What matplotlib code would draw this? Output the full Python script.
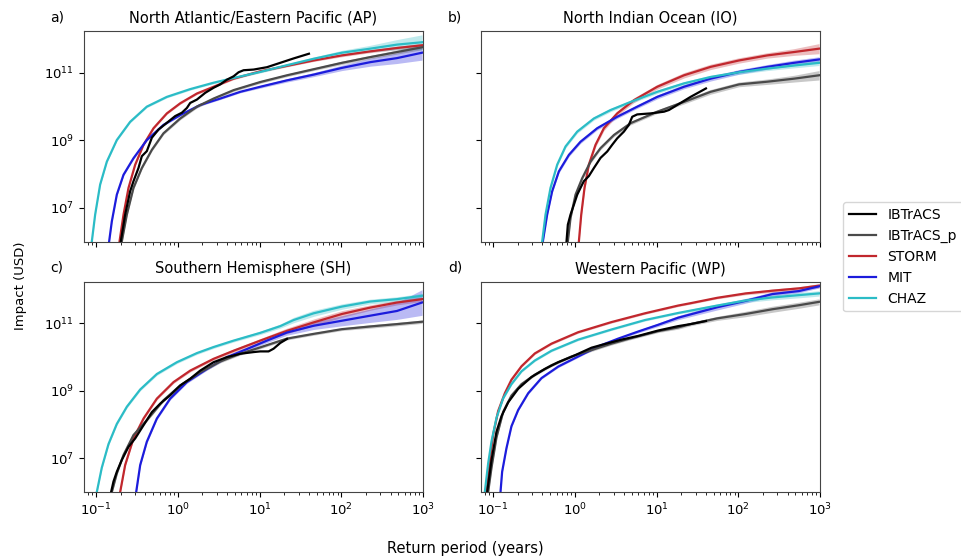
import numpy as np
import matplotlib
matplotlib.use("Agg")
import matplotlib.pyplot as plt
from matplotlib.ticker import LogLocator, NullFormatter

# all values are log10(return period [yr]) and log10(impact [USD])

# ---- a) North Atlantic/Eastern Pacific (AP)
ap_ibt_x = [-0.698, -0.645, -0.584, -0.543, -0.482, -0.441, -0.380, -0.318, -0.237, -0.135, -0.033, 0.049, 0.110,
            0.151, 0.233, 0.335, 0.437, 0.518, 0.600, 0.682, 0.743, 0.804, 0.927, 1.090, 1.253, 1.416, 1.604]
ap_ibt_y = [6.01, 6.80, 7.49, 7.79, 8.18, 8.53, 8.68, 9.08, 9.32, 9.52, 9.72, 9.82, 9.96,
            10.11, 10.21, 10.41, 10.56, 10.66, 10.80, 10.90, 11.02, 11.08, 11.10, 11.17, 11.30, 11.43, 11.57]
ap_ibtp_x = [-0.686, -0.624, -0.543, -0.441, -0.318, -0.176, 0.029, 0.233, 0.437, 0.682, 1.008, 1.335, 1.661,
             2.008, 2.355, 2.682, 2.988]
ap_ibtp_y = [6.0, 6.80, 7.59, 8.18, 8.72, 9.21, 9.65, 10.0, 10.24, 10.49, 10.73, 10.93, 11.11,
             11.30, 11.47, 11.62, 11.76]
ap_ibtp_sd = [0.04, 0.04, 0.04, 0.04, 0.04, 0.04, 0.04, 0.04, 0.04, 0.04, 0.04, 0.04, 0.04, 0.05, 0.05, 0.06, 0.07]
ap_storm_x = [-0.714, -0.665, -0.604, -0.522, -0.420, -0.298, -0.135, 0.029, 0.233, 0.437, 0.682, 1.008, 1.335,
              1.661, 2.008, 2.355, 2.682, 2.988]
ap_storm_y = [6.0, 6.80, 7.59, 8.28, 8.87, 9.36, 9.80, 10.10, 10.39, 10.59, 10.83, 11.05, 11.21,
              11.37, 11.52, 11.64, 11.74, 11.82]
ap_storm_sd = [0.03, 0.03, 0.03, 0.03, 0.03, 0.03, 0.03, 0.03, 0.03, 0.03, 0.03, 0.03, 0.03, 0.03, 0.04, 0.04, 0.05, 0.06]
ap_mit_x = [-0.841, -0.808, -0.747, -0.665, -0.543, -0.380, -0.176, 0.029, 0.273, 0.518, 0.763, 1.008, 1.335,
            1.661, 2.008, 2.355, 2.682, 2.988]
ap_mit_y = [6.0, 6.60, 7.39, 7.98, 8.47, 9.01, 9.46, 9.75, 10.05, 10.24, 10.44, 10.59, 10.78,
            10.95, 11.15, 11.32, 11.44, 11.60]
ap_mit_sd = [0.03, 0.03, 0.03, 0.03, 0.03, 0.03, 0.03, 0.03, 0.03, 0.03, 0.03, 0.04, 0.05, 0.06, 0.08, 0.12, 0.16, 0.22]
ap_chaz_x = [-1.053, -1.012, -0.951, -0.869, -0.747, -0.584, -0.380, -0.135, 0.151, 0.437, 0.682, 1.008, 1.335,
             1.661, 2.008, 2.355, 2.682, 2.988]
ap_chaz_y = [6.0, 6.80, 7.69, 8.37, 9.01, 9.55, 10.00, 10.29, 10.52, 10.71, 10.85, 11.03, 11.23,
             11.42, 11.60, 11.72, 11.84, 11.91]
ap_chaz_sd = [0.03, 0.03, 0.03, 0.03, 0.03, 0.03, 0.03, 0.03, 0.03, 0.03, 0.03, 0.03, 0.04, 0.05, 0.07, 0.10, 0.15, 0.22]

# ---- b) North Indian Ocean (IO)
io_ibt_x = [-0.102, -0.086, -0.053, -0.012, 0.029, 0.069, 0.110, 0.171, 0.233, 0.314, 0.396, 0.457, 0.518,
            0.600, 0.661, 0.702, 0.763, 0.927, 1.090, 1.151, 1.253, 1.416, 1.604]
io_ibt_y = [6.01, 6.50, 6.80, 7.09, 7.39, 7.59, 7.79, 7.94, 8.18, 8.48, 8.67, 8.87, 9.06,
            9.26, 9.46, 9.70, 9.77, 9.80, 9.85, 9.90, 10.05, 10.29, 10.54]
io_ibtp_x = [-0.086, -0.053, 0.008, 0.090, 0.192, 0.314, 0.478, 0.682, 1.008, 1.335, 1.661, 2.008, 2.355,
             2.682, 2.988]
io_ibtp_y = [6.0, 6.70, 7.39, 7.88, 8.37, 8.77, 9.16, 9.51, 9.85, 10.14, 10.44, 10.66, 10.74,
             10.83, 10.93]
io_ibtp_sd = [0.05, 0.05, 0.05, 0.05, 0.05, 0.05, 0.05, 0.05, 0.05, 0.06, 0.07, 0.07, 0.08, 0.10, 0.14]
io_storm_x = [0.049, 0.078, 0.118, 0.171, 0.253, 0.355, 0.518, 0.722, 1.008, 1.335, 1.661, 2.008, 2.355,
              2.682, 2.988]
io_storm_y = [6.0, 6.80, 7.59, 8.28, 8.87, 9.36, 9.80, 10.19, 10.59, 10.93, 11.18, 11.37, 11.52,
              11.62, 11.72]
io_storm_sd = [0.07, 0.07, 0.07, 0.07, 0.07, 0.07, 0.07, 0.07, 0.07, 0.08, 0.08, 0.08, 0.08, 0.10, 0.15]
io_mit_x = [-0.392, -0.339, -0.278, -0.196, -0.073, 0.069, 0.273, 0.518, 0.763, 1.008, 1.335, 1.661, 2.008,
            2.355, 2.682, 2.988]
io_mit_y = [6.0, 6.80, 7.49, 8.08, 8.57, 8.96, 9.36, 9.70, 10.0, 10.29, 10.59, 10.83, 11.03,
            11.18, 11.30, 11.40]
io_mit_sd = [0.05, 0.05, 0.05, 0.05, 0.05, 0.05, 0.05, 0.05, 0.05, 0.06, 0.06, 0.07, 0.07, 0.07, 0.08, 0.08]
io_chaz_x = [-0.400, -0.359, -0.298, -0.216, -0.114, 0.029, 0.233, 0.437, 0.682, 1.008, 1.335, 1.661, 2.008,
             2.355, 2.682, 2.988]
io_chaz_y = [6.0, 6.80, 7.59, 8.28, 8.82, 9.26, 9.65, 9.90, 10.14, 10.44, 10.69, 10.88, 11.02,
             11.13, 11.22, 11.30]
io_chaz_sd = [0.05, 0.05, 0.05, 0.05, 0.05, 0.05, 0.05, 0.05, 0.05, 0.05, 0.05, 0.05, 0.06, 0.06, 0.07, 0.08]

# ---- c) Southern Hemisphere (SH)
sh_ibt_x = [-0.816, -0.788, -0.747, -0.686, -0.604, -0.522, -0.420, -0.318, -0.216, -0.094, 0.029, 0.151, 0.273,
            0.437, 0.600, 0.763, 0.927, 1.008, 1.110, 1.171, 1.253, 1.335]
sh_ibt_y = [6.01, 6.31, 6.60, 6.95, 7.34, 7.59, 7.98, 8.37, 8.62, 8.87, 9.16, 9.36, 9.60,
            9.85, 10.00, 10.10, 10.15, 10.17, 10.17, 10.25, 10.42, 10.54]
sh_ibtp_x = [-0.808, -0.747, -0.665, -0.543, -0.380, -0.176, 0.029, 0.273, 0.518, 0.763, 1.008, 1.335, 1.661,
             2.008, 2.355, 2.682, 2.988]
sh_ibtp_y = [6.0, 6.55, 7.10, 7.69, 8.13, 8.72, 9.16, 9.55, 9.87, 10.10, 10.29, 10.55, 10.69,
             10.83, 10.91, 10.98, 11.05]
sh_ibtp_sd = [0.04, 0.04, 0.04, 0.04, 0.04, 0.04, 0.04, 0.04, 0.04, 0.04, 0.04, 0.04, 0.04, 0.04, 0.05, 0.05, 0.05]
sh_storm_x = [-0.706, -0.645, -0.543, -0.420, -0.257, -0.053, 0.151, 0.437, 0.682, 1.008, 1.335, 1.661, 2.008,
              2.355, 2.682, 2.988]
sh_storm_y = [6.0, 6.80, 7.59, 8.18, 8.77, 9.26, 9.60, 9.95, 10.19, 10.49, 10.78, 11.03, 11.28,
              11.47, 11.62, 11.72]
sh_storm_sd = [0.04, 0.04, 0.04, 0.04, 0.04, 0.04, 0.04, 0.04, 0.05, 0.06, 0.08, 0.10, 0.10, 0.08, 0.07, 0.07]
sh_mit_x = [-0.510, -0.461, -0.380, -0.257, -0.094, 0.110, 0.355, 0.600, 0.845, 1.090, 1.335, 1.661, 2.008,
            2.355, 2.682, 2.988]
sh_mit_y = [6.0, 6.80, 7.49, 8.18, 8.77, 9.26, 9.65, 10.0, 10.24, 10.49, 10.73, 10.93, 11.08,
            11.23, 11.37, 11.62]
sh_mit_sd = [0.04, 0.04, 0.04, 0.04, 0.04, 0.04, 0.04, 0.04, 0.05, 0.06, 0.08, 0.11, 0.15, 0.20, 0.25, 0.38]
sh_chaz_x = [-0.992, -0.931, -0.849, -0.747, -0.624, -0.461, -0.257, -0.012, 0.233, 0.437, 0.682, 1.008, 1.253,
             1.416, 1.661, 2.008, 2.355, 2.682, 2.988]
sh_chaz_y = [6.0, 6.72, 7.42, 8.02, 8.53, 9.04, 9.50, 9.85, 10.12, 10.30, 10.49, 10.72, 10.92,
             11.10, 11.30, 11.50, 11.65, 11.72, 11.82]
sh_chaz_sd = [0.04, 0.04, 0.04, 0.04, 0.04, 0.04, 0.04, 0.04, 0.04, 0.04, 0.04, 0.05, 0.06, 0.08, 0.09, 0.08, 0.07, 0.07, 0.07]

# ---- d) Western Pacific (WP)
wp_ibt_x = [-1.073, -1.020, -0.959, -0.898, -0.816, -0.694, -0.531, -0.367, -0.204, -0.041, 0.041, 0.204, 0.367,
            0.571, 0.775, 1.020, 1.264, 1.416, 1.604]
wp_ibt_y = [6.0, 6.95, 7.79, 8.25, 8.66, 9.06, 9.41, 9.65, 9.85, 10.01, 10.10, 10.28, 10.39,
            10.52, 10.63, 10.79, 10.92, 10.98, 11.07]
wp_ibtp_x = [-1.061, -1.020, -0.959, -0.877, -0.776, -0.653, -0.490, -0.286, -0.041, 0.204, 0.448, 0.653, 1.020,
             1.264, 1.416, 1.743, 2.090, 2.416, 2.743, 2.988]
wp_ibtp_y = [6.0, 6.72, 7.62, 8.38, 8.86, 9.20, 9.48, 9.76, 10.02, 10.21, 10.40, 10.54, 10.77,
             10.88, 10.98, 11.15, 11.28, 11.42, 11.54, 11.64]
wp_ibtp_sd = [0.04, 0.04, 0.04, 0.04, 0.04, 0.04, 0.04, 0.04, 0.04, 0.04, 0.04, 0.04, 0.04, 0.05, 0.05, 0.06, 0.08, 0.09, 0.09, 0.09]
wp_storm_x = [-1.082, -1.041, -1.000, -0.939, -0.857, -0.776, -0.653, -0.490, -0.286, 0.041, 0.448, 0.857, 1.264,
              1.416, 1.743, 2.090, 2.416, 2.743, 2.988]
wp_storm_y = [6.0, 6.90, 7.70, 8.40, 8.93, 9.33, 9.73, 10.11, 10.40, 10.74, 11.04, 11.30, 11.53,
              11.60, 11.76, 11.89, 11.97, 12.04, 12.12]
wp_storm_sd = [0.03, 0.03, 0.03, 0.03, 0.03, 0.03, 0.03, 0.03, 0.03, 0.03, 0.03, 0.03, 0.03, 0.03, 0.03, 0.04, 0.05, 0.05, 0.06]
wp_mit_x = [-0.910, -0.890, -0.837, -0.776, -0.694, -0.571, -0.408, -0.204, 0.041, 0.286, 0.531, 0.775, 1.020,
            1.264, 1.743, 2.090, 2.416, 2.743, 2.988]
wp_mit_y = [6.0, 6.60, 7.30, 7.95, 8.43, 8.93, 9.38, 9.72, 10.02, 10.32, 10.55, 10.76, 10.96,
            11.17, 11.48, 11.67, 11.87, 11.96, 12.10]
wp_mit_sd = [0.03, 0.03, 0.03, 0.03, 0.03, 0.03, 0.03, 0.03, 0.03, 0.03, 0.03, 0.04, 0.05, 0.06, 0.08, 0.07, 0.06, 0.05, 0.05]
wp_chaz_x = [-1.102, -1.061, -1.020, -0.959, -0.877, -0.776, -0.653, -0.490, -0.286, 0.041, 0.448, 0.857, 1.264,
             1.416, 1.743, 2.090, 2.416, 2.743, 2.988]
wp_chaz_y = [6.0, 6.85, 7.50, 8.20, 8.78, 9.20, 9.58, 9.90, 10.19, 10.52, 10.82, 11.10, 11.31,
             11.38, 11.53, 11.68, 11.77, 11.84, 11.89]
wp_chaz_sd = [0.03, 0.03, 0.03, 0.03, 0.03, 0.03, 0.03, 0.03, 0.03, 0.03, 0.03, 0.03, 0.03, 0.04, 0.05, 0.06, 0.07, 0.08, 0.08]

panel_titles = ["North Atlantic/Eastern Pacific (AP)", "North Indian Ocean (IO)",
                "Southern Hemisphere (SH)", "Western Pacific (WP)"]
panel_letters = ["a)", "b)", "c)", "d)"]
series_names = ["IBTrACS", "IBTrACS_p", "STORM", "MIT", "CHAZ"]
series_colors = ["black", "#4a4a4a", "#c1272d", "#1c1cdc", "#2bbcc6"]

panels = [
    [(ap_ibt_x, ap_ibt_y, None), (ap_ibtp_x, ap_ibtp_y, ap_ibtp_sd), (ap_storm_x, ap_storm_y, ap_storm_sd),
     (ap_mit_x, ap_mit_y, ap_mit_sd), (ap_chaz_x, ap_chaz_y, ap_chaz_sd)],
    [(io_ibt_x, io_ibt_y, None), (io_ibtp_x, io_ibtp_y, io_ibtp_sd), (io_storm_x, io_storm_y, io_storm_sd),
     (io_mit_x, io_mit_y, io_mit_sd), (io_chaz_x, io_chaz_y, io_chaz_sd)],
    [(sh_ibt_x, sh_ibt_y, None), (sh_ibtp_x, sh_ibtp_y, sh_ibtp_sd), (sh_storm_x, sh_storm_y, sh_storm_sd),
     (sh_mit_x, sh_mit_y, sh_mit_sd), (sh_chaz_x, sh_chaz_y, sh_chaz_sd)],
    [(wp_ibt_x, wp_ibt_y, None), (wp_ibtp_x, wp_ibtp_y, wp_ibtp_sd), (wp_storm_x, wp_storm_y, wp_storm_sd),
     (wp_mit_x, wp_mit_y, wp_mit_sd), (wp_chaz_x, wp_chaz_y, wp_chaz_sd)],
]

fig, axes = plt.subplots(2, 2, figsize=(9.61, 5.56), dpi=100, sharex=True, sharey=True)
fig.subplots_adjust(left=0.0874, right=0.8533, top=0.9442, bottom=0.1151, wspace=0.171, hspace=0.19)
axes = axes.reshape(-1)

for k, ax in enumerate(axes):
    # models first, observations on top
    for i in [2, 3, 4, 1, 0]:
        lx, ly, sd = panels[k][i]
        rp = 10 ** np.array(lx)
        imp = 10 ** np.array(ly)
        if sd is not None:
            sd = np.array(sd)
            ax.fill_between(rp, 10 ** (np.array(ly) - sd), 10 ** (np.array(ly) + sd),
                            color=series_colors[i], alpha=0.3, lw=0)
        ax.plot(rp, imp, color=series_colors[i], lw=1.6, label=series_names[i])
    ax.set_xscale('log')
    ax.set_yscale('log')
    ax.set_xlim(0.071, 1000)
    ax.set_ylim(1e6, 1.75e12)
    ax.set_yticks([1e7, 1e9, 1e11])
    ax.yaxis.set_minor_locator(plt.NullLocator())
    ax.xaxis.set_major_locator(LogLocator(base=10, numticks=10))
    ax.xaxis.set_minor_locator(LogLocator(base=10, subs=np.arange(2, 10), numticks=20))
    ax.xaxis.set_minor_formatter(NullFormatter())
    ax.tick_params(labelsize=9.5)
    for s in ax.spines.values():
        s.set_color('#444444')
    ax.set_title(panel_titles[k], fontsize=10.5)

letter_pos = [(0.052, 0.969), (0.466, 0.969), (0.052, 0.518), (0.466, 0.518)]
for (lx, ly), lab in zip(letter_pos, panel_letters):
    fig.text(lx, ly, lab, fontsize=10, va='center')

fig.text(0.021, 0.486, "Impact (USD)", rotation=90, fontsize=9.5, ha='center', va='center')
fig.text(0.484, 0.014, "Return period (years)", fontsize=10.5, ha='center', va='center')

handles, labels = axes[0].get_legend_handles_labels()
order = [labels.index(n) for n in series_names]
fig.legend([handles[j] for j in order], series_names, loc='center left',
           bbox_to_anchor=(0.870, 0.538), fontsize=10, frameon=True)

fig.savefig("out.png", dpi=100)
